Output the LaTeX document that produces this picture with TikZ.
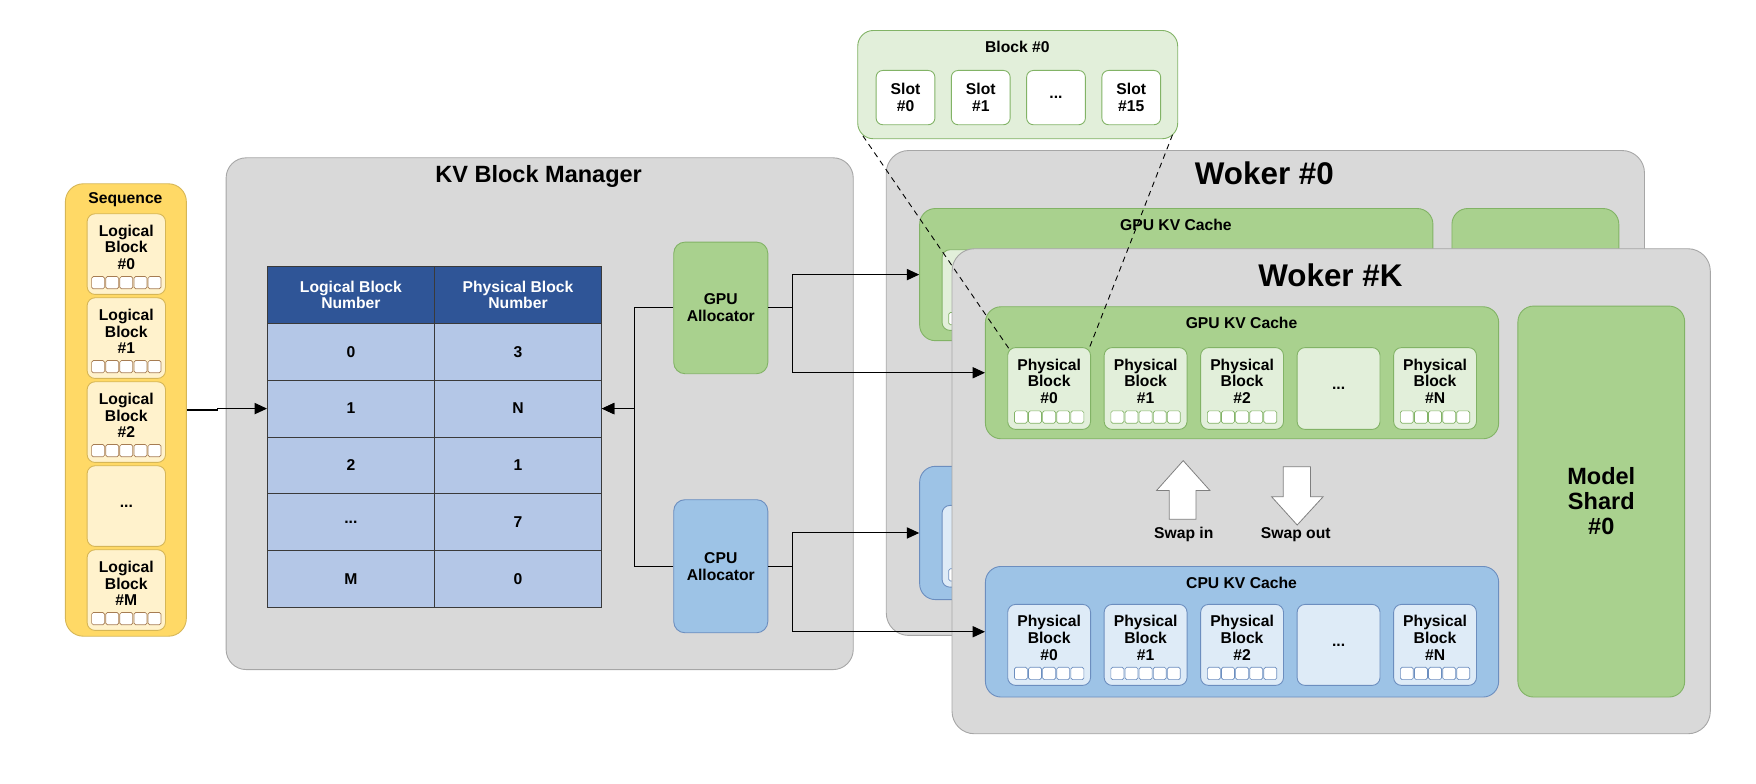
\documentclass[tikz,border=0pt]{standalone}
\usepackage{fontspec}
\setmainfont{Liberation Sans}
\usetikzlibrary{arrows.meta,calc}

\definecolor{panelgray}{HTML}{D9D9D9}
\definecolor{panelline}{HTML}{A6A6A6}
\definecolor{seqfill}{HTML}{FFD966}
\definecolor{seqline}{HTML}{D6B656}
\definecolor{seqlight}{HTML}{FFF2CC}
\definecolor{slotline}{HTML}{A67C52}
\definecolor{gpufill}{HTML}{A9D18E}
\definecolor{gpuline}{HTML}{82B366}
\definecolor{gpulight}{HTML}{E2EFDA}
\definecolor{cpufill}{HTML}{9DC3E6}
\definecolor{cpuline}{HTML}{6C8EBF}
\definecolor{cpulight}{HTML}{DEEBF7}
\definecolor{hdrblue}{HTML}{2F5597}
\definecolor{rowblue}{HTML}{B4C7E7}
\definecolor{cellline}{HTML}{3A3A3A}
\definecolor{swapline}{HTML}{7F7F7F}

\def\pbw{74}      % physical block width
\def\pbh{73}      % physical block height
\def\pbdx{86.15}  % step between physical blocks
\newcommand{\tdots}{...}

%row of 5 small slots under the text of a block
\newcommand{\slotrow}[2]{%
  \foreach \s in {-2,...,2}{
    \draw[slotsq, draw=#2] ($(#1.center)+(\s*12.6-5.8,20)$) rectangle ++(11.6,11);
  }
}

\begin{document}
\begin{tikzpicture}[x=1pt,y=-1pt,
  rbox/.style={draw, line width=0.8pt, rounded corners=#1, inner sep=0pt, anchor=north west},
  lbl/.style={font=\fontsize{14}{15}\selectfont\bfseries, align=center, inner sep=0pt},
  ttl/.style={font=\fontsize{21}{23}\selectfont\bfseries, align=center, inner sep=0pt},
  wttl/.style={font=\fontsize{28}{30}\selectfont\bfseries, inner sep=0pt},
  cell/.style={draw=cellline, line width=0.8pt, anchor=north west, minimum width=149.1, minimum height=50.8, lbl},
  slotsq/.style={fill=white, line width=0.6pt, rounded corners=1.5pt},
  conn/.style={line width=0.9pt, -{Triangle[length=11pt,width=10pt]}},
  swap/.style={fill=white, draw=swapline, line width=0.7pt},
  zoomline/.style={dashed, dash pattern=on 5pt off 4pt, line width=0.8pt},
]
\useasboundingbox (0,0) rectangle (1568,699.2);

%KV block manager (gray)
\node[rbox=18pt, fill=panelgray, draw=panelline, minimum width=560, minimum height=457] (kvm) at (201.5,140.5) {};
\node[ttl] (kvmt) at (481,158) {KV Block Manager};

%The sequence (yellow)
\node[rbox=16pt, fill=seqfill, draw=seqline, minimum width=108, minimum height=404] (seq) at (58,163.7) {};
\node[lbl] (seqt) at (112,178.6) {Sequence};

\foreach \i/\n in {0/0,1/1,2/2,4/M}{
    \node[rbox=7pt, fill=seqlight, draw=seqline, minimum width=70, minimum height=72] (lb\i) at (77.4,190.5+75*\i) {};
    \node[lbl] (lbt\i) at ([yshift=6pt]lb\i.center) {Logical\\Block\\\#\n};
    \slotrow{lb\i}{slotline}
}
\node[rbox=7pt, fill=seqlight, draw=seqline, minimum width=70, minimum height=72, lbl] (lb3) at (77.4,415.5) {\tdots};

%block table
\node[cell, fill=hdrblue, text=white] (hl) at (238.4,237.5) {Logical Block\\Number};
\node[cell, fill=hdrblue, text=white] (hp) at (387.6,237.5) {Physical Block\\Number};
\foreach \r/\a/\b in {0/0/3,1/1/N,2/2/1,3/\tdots/7,4/M/0}{
    \node[cell, fill=rowblue] (lrow\r) at (238.4,288.3+50.75*\r) {\a};
    \node[cell, fill=rowblue] (prow\r) at (387.6,288.3+50.75*\r) {\b};
}

%allocators
\node[rbox=10pt, fill=gpufill, draw=gpuline, minimum width=84, minimum height=117.5, lbl] (galloc) at (601.2,215.8) {GPU\\Allocator};
\node[rbox=10pt, fill=cpufill, draw=cpuline, minimum width=84, minimum height=118.8, lbl] (calloc) at (601.2,445.8) {CPU\\Allocator};

%Woker #0, mostly behind Woker #K
\node[rbox=20pt, fill=panelgray, draw=panelline, minimum width=677, minimum height=433] (w0) at (791,134) {};
\node[wttl] (w0t) at (1129,155) {Woker \#0};
\node[rbox=14pt, fill=gpufill, draw=gpuline, minimum width=458.3, minimum height=118] (w0gpu) at (820.8,185.8) {};
\node[lbl] (w0gput) at (1050,200.5) {GPU KV Cache};
\node[rbox=7pt, fill=gpulight, draw=gpuline, minimum width=\pbw, minimum height=72] (w0gpb0) at (840.8,222.6) {};
\slotrow{w0gpb0}{gpuline}
\node[rbox=14pt, fill=gpufill, draw=gpuline, minimum width=149, minimum height=349] (w0shard) at (1296.1,185.8) {};
\node[rbox=14pt, fill=cpufill, draw=cpuline, minimum width=458.3, minimum height=119] (w0cpu) at (820.8,416) {};
\node[rbox=7pt, fill=cpulight, draw=cpuline, minimum width=\pbw, minimum height=73] (w0cpb0) at (840.8,450.9) {};
\slotrow{w0cpb0}{cpuline}

%Woker #K
\node[rbox=20pt, fill=panelgray, draw=panelline, minimum width=677.1, minimum height=433.1] (wk) at (849.7,221.7) {};
\node[wttl] (wkt) at (1188,245.5) {Woker \#K};

%GPU cache (green)
\node[rbox=14pt, fill=gpufill, draw=gpuline, minimum width=458.3, minimum height=117.9] (wkgpu) at (879.5,273.5) {};
\node[lbl] (wkgput) at (1108.6,288.7) {GPU KV Cache};
\foreach \i/\n in {0/0,1/1,2/2,4/N}{
    \node[rbox=7pt, fill=gpulight, draw=gpuline, minimum width=\pbw, minimum height=\pbh] (gpb\i) at (899.4+\pbdx*\i,310) {};
    \node[lbl] (gpbt\i) at ([yshift=6.5pt]gpb\i.center) {Physical\\Block\\\#\n};
    \slotrow{gpb\i}{gpuline}
}
\node[rbox=7pt, fill=gpulight, draw=gpuline, minimum width=\pbw, minimum height=\pbh, lbl] (gpb3) at (899.4+\pbdx*3,310) {\tdots};

%swap arrows
\draw[swap] (1044,463.7) -- (1044,438) -- (1032.7,438) -- (1056.5,411.3) -- (1080.4,438) -- (1068,438) -- (1068,463.7) -- cycle;
\node[lbl] (swapin) at (1057,477) {Swap in};
\draw[swap] (1145.8,416.7) -- (1145.8,443.5) -- (1135.4,443.5) -- (1158.3,468.8) -- (1181.5,443.5) -- (1170.2,443.5) -- (1170.2,416.7) -- cycle;
\node[lbl] (swapout) at (1157,477) {Swap out};

%CPU cache (blue)
\node[rbox=14pt, fill=cpufill, draw=cpuline, minimum width=458.3, minimum height=116.6] (wkcpu) at (879.5,505.4) {};
\node[lbl] (wkcput) at (1108.6,520.2) {CPU KV Cache};
\foreach \i/\n in {0/0,1/1,2/2,4/N}{
    \node[rbox=7pt, fill=cpulight, draw=cpuline, minimum width=\pbw, minimum height=72.3] (cpb\i) at (899.4+\pbdx*\i,539.3) {};
    \node[lbl] (cpbt\i) at ([yshift=6.5pt]cpb\i.center) {Physical\\Block\\\#\n};
    \slotrow{cpb\i}{cpuline}
}
\node[rbox=7pt, fill=cpulight, draw=cpuline, minimum width=\pbw, minimum height=72.3, lbl] (cpb3) at (899.4+\pbdx*3,539.3) {\tdots};

%model shard
\node[rbox=14pt, fill=gpufill, draw=gpuline, minimum width=148.9, minimum height=349.1, font=\fontsize{21}{22.3}\selectfont\bfseries, align=center] (shard) at (1355,272.9) {Model\\Shard\\\#0};

%arrows
\draw[conn] (seq.east) -- ++(27,0) |- (lrow1.west);
\draw[conn] (galloc.west) -- ++(-35,0) |- (prow1.east);
\draw[conn] (calloc.west) -- ++(-35,0) |- (prow1.east);
\draw[conn] (galloc.east) -- ++(22,0) |- (w0gpu.west);
\draw[conn] (galloc.east) -- ++(22,0) |- (wkgpu.west);
\draw[conn] (calloc.east) -- ++(22,0) |- (w0cpu.west);
\draw[conn] (calloc.east) -- ++(22,0) |- (wkcpu.west);

%zoom into one block
\node[rbox=14pt, fill=gpulight, draw=gpuline, minimum width=285.7, minimum height=96.7] (blk) at (765.5,26.8) {};
\node[lbl] (blkt) at (908.4,41.7) {Block \#0};
\foreach \i/\n in {0/0,1/1,3/15}{
    \node[rbox=6pt, fill=white, draw=gpuline, minimum width=52.5, minimum height=48.5, lbl] (slot\i) at (781.9+67.2*\i,62.5) {Slot\\\#\n};
}
\node[rbox=6pt, fill=white, draw=gpuline, minimum width=52.5, minimum height=48.5, lbl] (slot2) at (781.9+67.2*2,62.5) {\tdots};

\draw[zoomline] ([shift={(5,-3)}]blk.south west) -- ([shift={(2,2)}]gpb0.north west);
\draw[zoomline] ([shift={(-5,-4)}]blk.south east) -- ([shift={(-2,2)}]gpb0.north east);

\end{tikzpicture}
\end{document}
